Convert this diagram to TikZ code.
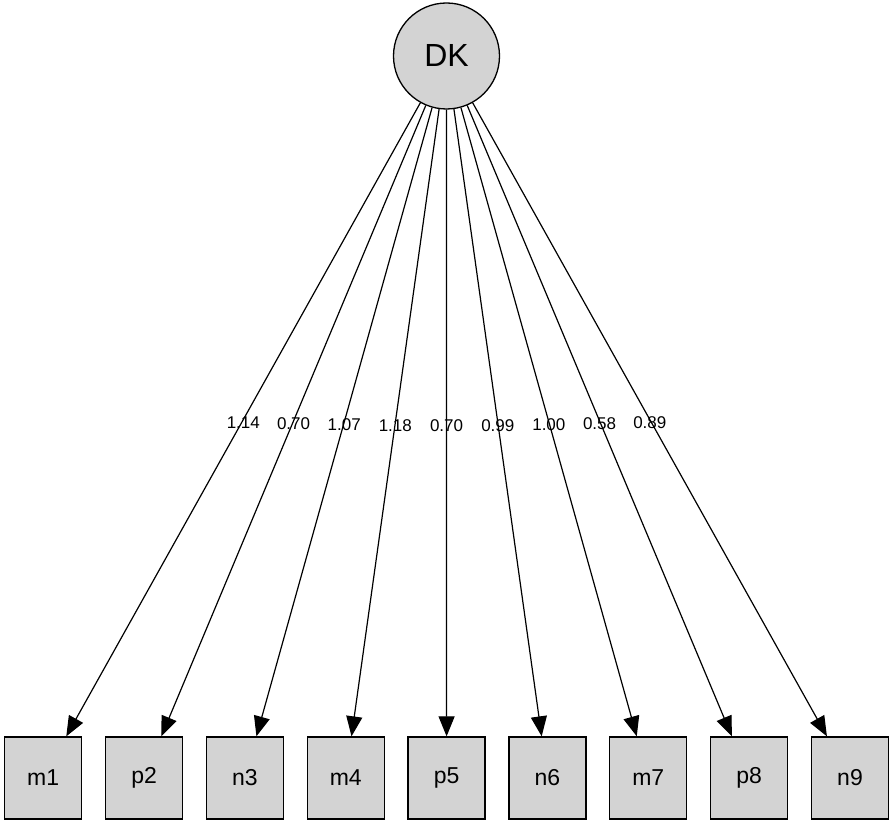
\documentclass[tikz,border=0pt]{standalone}
\usepackage{fontspec}
\setmainfont{Liberation Sans}
\usetikzlibrary{arrows.meta}
\definecolor{boxgray}{RGB}{211,211,211}
\begin{document}
\begin{tikzpicture}[x=1pt, y=1pt, node distance={100.85pt},
  latent/.style = {draw, circle, fill=boxgray, line width=1.3pt, minimum size=106pt, inner sep=0pt, font=\fontsize{32}{36}\selectfont},
  obs/.style = {draw, rectangle, fill=boxgray, line width=1.3pt, minimum width=77pt, minimum height=82pt, inner sep=0pt, font=\fontsize{23}{26}\selectfont},
  load/.style = {line width=1.2pt, -{Triangle[length=20pt, width=16pt]}},
  est/.style = {inner sep=0pt, yshift=-3pt, font=\fontsize{17}{19}\selectfont}]
\useasboundingbox (0,0) rectangle (889,822);

\node[latent] (DK) at (446.5,766) {DK};
\node[obs] (m1) at (43.2,44) {m1};
\node[obs] (p2) [right of=m1] {p2};
\node[obs] (n3) [right of=p2] {n3};
\node[obs] (m4) [right of=n3] {m4};
\node[obs] (p5) [right of=m4] {p5};
\node[obs] (n6) [right of=p5] {n6};
\node[obs] (m7) [right of=n6] {m7};
\node[obs] (p8) [right of=m7] {p8};
\node[obs] (n9) [right of=p8] {n9};

\draw[load] (DK) -- node[est, pos=0.5] {1.14} (m1);
\draw[load] (DK) -- node[est, pos=0.5] {0.70} (p2);
\draw[load] (DK) -- node[est, pos=0.5] {1.07} (n3);
\draw[load] (DK) -- node[est, pos=0.5] {1.18} (m4);
\draw[load] (DK) -- node[est, pos=0.5] {0.70} (p5);
\draw[load] (DK) -- node[est, pos=0.5] {0.99} (n6);
\draw[load] (DK) -- node[est, pos=0.5] {1.00} (m7);
\draw[load] (DK) -- node[est, pos=0.5] {0.58} (p8);
\draw[load] (DK) -- node[est, pos=0.5] {0.89} (n9);
\end{tikzpicture}
\end{document}
